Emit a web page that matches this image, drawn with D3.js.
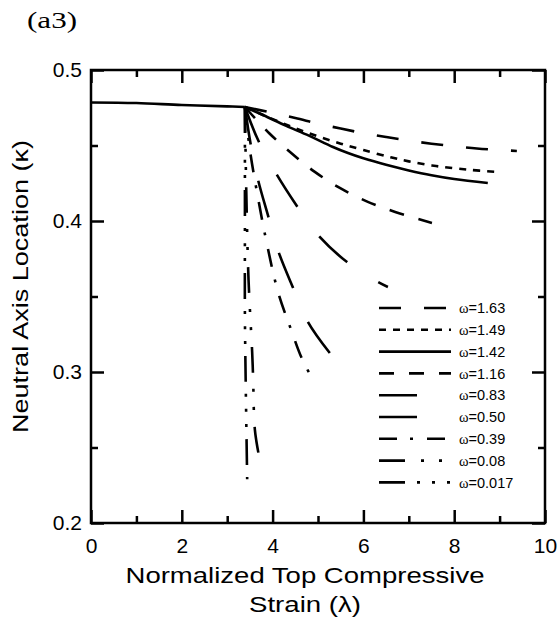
<!DOCTYPE html>
<html>
<head>
<meta charset="utf-8">
<script src="https://cdn.jsdelivr.net/npm/d3@7"></script>
<style>
  html, body { margin: 0; padding: 0; background: #fff; }
  svg { display: block; }
  text { font-family: 'Liberation Sans', Arial, sans-serif; fill: #000; }
</style>
</head>
<body>
<svg id="chart" width="560" height="622"></svg>
<script>
// data: lambda (x) and kappa (y) per omega
const lambdaCommon = [0, 1, 2, 3, 3.39]
const kappaCommon = [0.4785, 0.4781, 0.4768, 0.4759, 0.4755]

const omegaLabels = ['1.63', '1.49', '1.42', '1.16', '0.83', '0.50', '0.39', '0.08', '0.017']

const lambdaW163 = [3.39, 4.0, 4.5, 5.0, 5.5, 6.0, 6.5, 7.0, 7.5, 8.0, 8.5, 9.0, 9.38]
const kappaW163 = [0.4755, 0.4716, 0.4682, 0.4645, 0.4612, 0.4582, 0.4556, 0.4532, 0.4512, 0.4495, 0.4480, 0.4470, 0.4464]

const lambdaW149 = [3.39, 4.0, 4.5, 5.0, 5.5, 6.0, 6.6, 7.0, 7.6, 8.3, 8.94]
const kappaW149 = [0.4755, 0.4675, 0.4615, 0.4560, 0.4512, 0.4470, 0.4422, 0.4395, 0.4364, 0.4340, 0.4325]

const lambdaW142 = [3.39, 3.8, 4.3, 4.8, 5.33, 5.66, 6.0, 6.5, 7.0, 7.5, 8.0, 8.74]
const kappaW142 = [0.4755, 0.4700, 0.4630, 0.4565, 0.4490, 0.4450, 0.4415, 0.4372, 0.4335, 0.4303, 0.4278, 0.4252]

const lambdaW116 = [3.39, 3.92, 4.41, 4.93, 5.48, 6.06, 6.70, 7.51]
const kappaW116 = [0.4755, 0.4583, 0.4450, 0.4325, 0.4219, 0.4132, 0.4060, 0.3987]

const lambdaW083 = [3.39, 3.68, 4.07, 4.52, 5.0, 5.64, 6.32, 6.54]
const kappaW083 = [0.4755, 0.4536, 0.4318, 0.4106, 0.3907, 0.3728, 0.3596, 0.3563]

const lambdaW050 = [3.39, 3.52, 3.68, 3.90, 4.12, 4.45, 4.78, 5.26]
const kappaW050 = [0.4755, 0.4503, 0.4272, 0.4035, 0.3805, 0.3558, 0.3331, 0.3126]

const lambdaW039 = [3.39, 3.50, 3.68, 3.88, 4.12, 4.41, 4.65, 4.93]
const kappaW039 = [0.4755, 0.4470, 0.4152, 0.3841, 0.3530, 0.3278, 0.3086, 0.2927]

const lambdaW008 = [3.39, 3.42, 3.47, 3.55, 3.57, 3.61, 3.70]
const kappaW008 = [0.4755, 0.4200, 0.3610, 0.3130, 0.2970, 0.2616, 0.2444]

const lambdaW0017 = [3.39, 3.39, 3.39, 3.41, 3.44]
const kappaW0017 = [0.4755, 0.3940, 0.3390, 0.2880, 0.2290]

const xTicksMajor = [0, 2, 4, 6, 8, 10]
const xTicksMinor = [1, 3, 5, 7, 9]
const yTicksMajor = [0.2, 0.3, 0.4, 0.5]
const yTicksMinor = [0.25, 0.35, 0.45]

// line styles, same order as omegaLabels
const dashes = ['22,23', '7,7', null, '15,15', '38,37', '38,37', '18,13,3,14', '26,16,3,15,3,17', '26,12,3,12,3,12,3,12']

const series = [
  [lambdaW163, kappaW163], [lambdaW149, kappaW149], [lambdaW142, kappaW142],
  [lambdaW116, kappaW116], [lambdaW083, kappaW083], [lambdaW050, kappaW050],
  [lambdaW039, kappaW039], [lambdaW008, kappaW008], [lambdaW0017, kappaW0017]
].map(([xs, ys], i) => ({
  label: omegaLabels[i],
  dash: dashes[i],
  points: xs.map((v, j) => ({ x: v, y: ys[j] }))
}))

const svg = d3.select('#chart')
const plotLeft = 91, plotRight = 545, plotTop = 70, plotBottom = 523

const x = d3.scaleLinear().domain([0, 10]).range([plotLeft, plotRight])
const y = d3.scaleLinear().domain([0.2, 0.5]).range([plotBottom, plotTop])

const majorLen = 13, minorLen = 7

function addAxis(axisFn, transform, values, len, labels) {
  const g = svg.append('g')
    .attr('transform', transform)
    .call(axisFn.tickValues(values).tickSizeInner(-len).tickSizeOuter(0)
      .tickPadding(labels ? labels.pad : 0)
      .tickFormat(labels ? labels.fmt : () => ''))
  g.select('.domain').remove()
  g.selectAll('.tick line').attr('stroke', '#000').attr('stroke-width', 2.5)
  g.selectAll('text').style('font-size', '21px').attr('fill', '#000')
  return g
}

// ticks point inwards on all four sides
addAxis(d3.axisBottom(x), `translate(0,${plotBottom})`, xTicksMajor, majorLen, { pad: 15, fmt: d3.format('d') })
addAxis(d3.axisBottom(x), `translate(0,${plotBottom})`, xTicksMinor, minorLen)
addAxis(d3.axisTop(x), `translate(0,${plotTop})`, xTicksMajor, majorLen)
addAxis(d3.axisTop(x), `translate(0,${plotTop})`, xTicksMinor, minorLen)
addAxis(d3.axisLeft(y), `translate(${plotLeft},0)`, yTicksMajor, majorLen, { pad: 9, fmt: d3.format('.1f') })
addAxis(d3.axisLeft(y), `translate(${plotLeft},0)`, yTicksMinor, minorLen)
addAxis(d3.axisRight(y), `translate(${plotRight},0)`, yTicksMajor, majorLen)
addAxis(d3.axisRight(y), `translate(${plotRight},0)`, yTicksMinor, minorLen)

svg.append('rect')
  .attr('x', plotLeft).attr('y', plotTop)
  .attr('width', plotRight - plotLeft).attr('height', plotBottom - plotTop)
  .attr('fill', 'none').attr('stroke', '#000').attr('stroke-width', 2.5)

const line = d3.line()
  .x(d => x(d.x))
  .y(d => y(d.y))
  .curve(d3.curveCatmullRom.alpha(0.5))

// shared branch before the curves split
svg.append('path')
  .datum(lambdaCommon.map((v, i) => ({ x: v, y: kappaCommon[i] })))
  .attr('d', line)
  .attr('fill', 'none').attr('stroke', '#000').attr('stroke-width', 2.6)

series.forEach(s => {
  svg.append('path')
    .datum(s.points)
    .attr('d', line)
    .attr('fill', 'none')
    .attr('stroke', '#000')
    .attr('stroke-width', 2.6)
    .attr('stroke-dasharray', s.dash)
})

// legend
const legend = svg.append('g')
series.forEach((s, i) => {
  const ly = 308 + i * 21.8
  legend.append('line')
    .attr('x1', 379).attr('x2', 451)
    .attr('y1', ly).attr('y2', ly)
    .attr('stroke', '#000').attr('stroke-width', 2.6)
    .attr('stroke-dasharray', s.dash)
  const t = legend.append('text')
    .attr('x', 459).attr('y', ly).attr('dy', '0.36em')
    .style('font-size', '14.5px')
  t.append('tspan').style('font-family', "'Liberation Serif', 'Times New Roman', serif").text('ω')
  t.append('tspan').text('=' + s.label)
})

// titles
svg.append('text')
  .attr('x', 305).attr('y', 583)
  .attr('text-anchor', 'middle')
  .attr('textLength', 359).attr('lengthAdjust', 'spacingAndGlyphs')
  .style('font-size', '22px')
  .text('Normalized Top Compressive')

svg.append('text')
  .attr('x', 305).attr('y', 612)
  .attr('text-anchor', 'middle')
  .attr('textLength', 112).attr('lengthAdjust', 'spacingAndGlyphs')
  .style('font-size', '22px')
  .text('Strain (λ)')

svg.append('text')
  .attr('transform', 'translate(28,286.5) rotate(-90)')
  .attr('text-anchor', 'middle')
  .attr('textLength', 293).attr('lengthAdjust', 'spacingAndGlyphs')
  .style('font-size', '22px')
  .text('Neutral Axis Location (κ)')

svg.append('text')
  .attr('x', 27).attr('y', 28)
  .attr('textLength', 50).attr('lengthAdjust', 'spacingAndGlyphs')
  .style('font-family', "'Liberation Serif', 'Times New Roman', serif")
  .style('font-size', '24px')
  .text('(a3)')
</script>
</body>
</html>
